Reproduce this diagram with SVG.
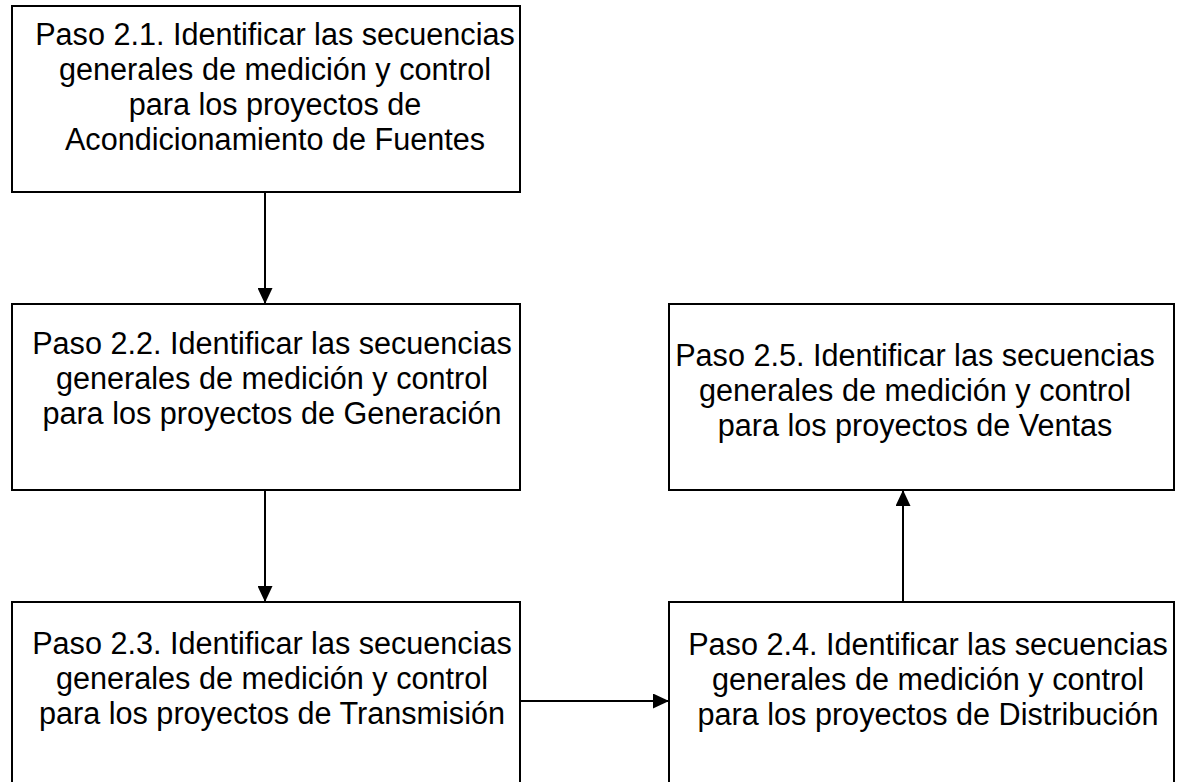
<svg xmlns="http://www.w3.org/2000/svg" width="1180" height="782" viewBox="0 0 1180 782">
<style>
.box{fill:#fff;stroke:#000;stroke-width:2}
.t{font-family:"Liberation Sans",Arial,sans-serif;font-size:30.6px;fill:#000;text-anchor:middle}
.c{stroke:#000;stroke-width:2;fill:none}
</style>
<defs>
<marker id="ah" markerWidth="16" markerHeight="15" refX="16" refY="7.5" orient="auto" markerUnits="userSpaceOnUse" viewBox="0 0 16 15">
<path d="M0,0 L16,7.5 L0,15 z" fill="#000"/>
</marker>
</defs>
<rect width="1180" height="782" fill="#fff"/>
<g id="n1">
<rect class="box" x="12" y="6" width="508" height="186"/>
<text class="t" x="275" y="45">Paso 2.1. Identificar las secuencias</text>
<text class="t" x="275" y="80">generales de medición y control</text>
<text class="t" x="275" y="115">para los proyectos de</text>
<text class="t" x="275" y="150">Acondicionamiento de Fuentes</text>
</g>
<g id="n2">
<rect class="box" x="12" y="304" width="508" height="186"/>
<text class="t" x="272" y="354">Paso 2.2. Identificar las secuencias</text>
<text class="t" x="272" y="389">generales de medición y control</text>
<text class="t" x="272" y="424">para los proyectos de Generación</text>
</g>
<g id="n3">
<rect class="box" x="12" y="602" width="508" height="200"/>
<text class="t" x="272" y="654">Paso 2.3. Identificar las secuencias</text>
<text class="t" x="272" y="689">generales de medición y control</text>
<text class="t" x="272" y="724">para los proyectos de Transmisión</text>
</g>
<g id="n4">
<rect class="box" x="669" y="602" width="505" height="200"/>
<text class="t" x="928" y="655">Paso 2.4. Identificar las secuencias</text>
<text class="t" x="928" y="690">generales de medición y control</text>
<text class="t" x="928" y="725">para los proyectos de Distribución</text>
</g>
<g id="n5">
<rect class="box" x="669" y="304" width="505" height="186"/>
<text class="t" x="915" y="366">Paso 2.5. Identificar las secuencias</text>
<text class="t" x="915" y="401">generales de medición y control</text>
<text class="t" x="915" y="436">para los proyectos de Ventas</text>
</g>
<g id="connectors">
<line class="c" x1="265" y1="192" x2="265" y2="304" marker-end="url(#ah)"/>
<line class="c" x1="265" y1="490" x2="265" y2="602" marker-end="url(#ah)"/>
<line class="c" x1="520" y1="701" x2="669" y2="701" marker-end="url(#ah)"/>
<line class="c" x1="903" y1="602" x2="903" y2="490" marker-end="url(#ah)"/>
</g>
</svg>
